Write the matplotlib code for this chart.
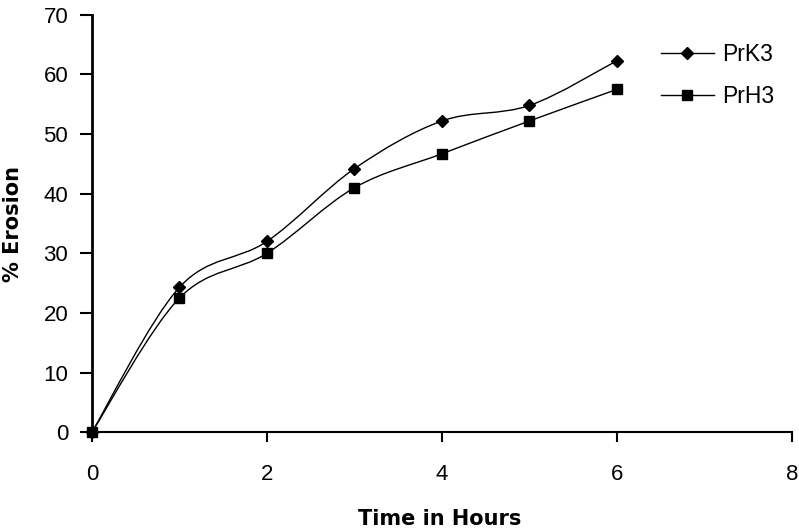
import matplotlib
matplotlib.use("Agg")
import matplotlib.pyplot as plt
import numpy as np
from matplotlib.path import Path
from matplotlib.patches import PathPatch

plt.rcParams['font.family'] = ['Liberation Sans', 'DejaVu Sans']

hours = [0, 1, 2, 3, 4, 5, 6]
prk3 = [0, 24.3, 32.0, 44.2, 52.2, 54.8, 62.3]
prh3 = [0, 22.5, 30.0, 41.0, 46.7, 52.2, 57.5]
series_names = ["PrK3", "PrH3"]
x_ticks = [0, 2, 4, 6, 8]
y_ticks = [0, 10, 20, 30, 40, 50, 60, 70]


def smooth_path(xs, ys):
    xs = np.asarray(xs, float)
    ys = np.asarray(ys, float)
    n = len(xs)
    verts = [(xs[0], ys[0])]
    codes = [Path.MOVETO]
    for i in range(n - 1):
        x0, y0 = (xs[i - 1], ys[i - 1]) if i > 0 else (xs[i], ys[i])
        x1, y1 = xs[i], ys[i]
        x2, y2 = xs[i + 1], ys[i + 1]
        x3, y3 = (xs[i + 2], ys[i + 2]) if i + 2 < n else (xs[i + 1], ys[i + 1])
        c1 = (x1 + (x2 - x0) / 6, y1 + (y2 - y0) / 6)
        c2 = (x2 - (x3 - x1) / 6, y2 - (y3 - y1) / 6)
        verts += [c1, c2, (x2, y2)]
        codes += [Path.CURVE4] * 3
    return Path(verts, codes)


fig = plt.figure(figsize=(7.99, 5.31), dpi=100)
ax = fig.add_axes([0.115, 0.186, 0.876, 0.786])

for ys, mk, ms, name in [(prk3, 'D', 6.5, series_names[0]), (prh3, 's', 7.5, series_names[1])]:
    ax.add_patch(PathPatch(smooth_path(hours, ys), facecolor='none', edgecolor='black', lw=1.0))
    ax.plot(hours, ys, linestyle='none', marker=mk, markersize=ms, color='black', clip_on=False)
    ax.plot([], [], color='black', lw=1.0, marker=mk, markersize=ms, label=name)

ax.set_xlim(0, 8)
ax.set_ylim(0, 70)
ax.set_xticks(x_ticks)
ax.set_yticks(y_ticks)
ax.spines['top'].set_visible(False)
ax.spines['right'].set_visible(False)
ax.spines['left'].set_linewidth(2)
ax.spines['bottom'].set_linewidth(1.5)
ax.tick_params(axis='y', direction='out', length=9, width=1.5, labelsize=16, pad=8)
ax.tick_params(axis='x', direction='out', length=7, width=1.5, labelsize=16, pad=16)
ax.set_xlabel("Time in Hours", fontsize=15, fontweight='bold', family='DejaVu Sans')
ax.set_ylabel("% Erosion", fontsize=15, fontweight='bold', family='DejaVu Sans')
ax.xaxis.set_label_coords(0.497, -0.183)
ax.yaxis.set_label_coords(-0.099, 0.5)

leg = ax.legend(loc='upper left', bbox_to_anchor=(0.80, 0.955), frameon=False,
                fontsize=16.5, handlelength=2.3, labelspacing=0.85, handletextpad=0.35,
                borderaxespad=0)

fig.savefig("out.png", dpi=100)
